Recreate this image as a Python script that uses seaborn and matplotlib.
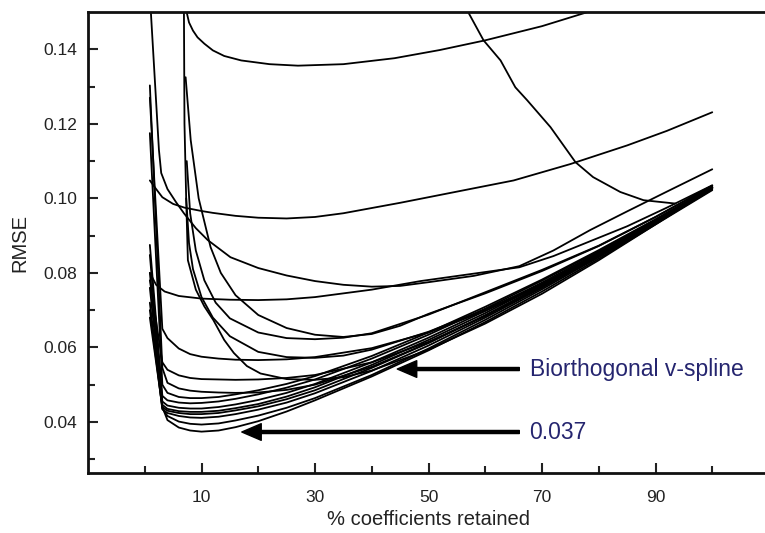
import matplotlib
matplotlib.use("Agg")
import matplotlib.pyplot as plt
import pandas as pd
import seaborn as sns

# ---------------- data ----------------
# common x grid for curves that start at ~1 % and have a sharp knee near 3 %
pct_knee = [0.9, 3.1, 4, 6, 8, 10, 13, 16, 20, 25, 30, 40, 50, 60, 70, 80, 90, 100]

rmse_b1 = [0.0680, 0.0440, 0.0405, 0.0385, 0.0377, 0.0374, 0.0377, 0.0386, 0.0402, 0.0428, 0.0458, 0.0522, 0.0592, 0.0668, 0.0750, 0.0838, 0.0930, 0.1022]
rmse_b2 = [0.0700, 0.0436, 0.0416, 0.0401, 0.0395, 0.0393, 0.0396, 0.0404, 0.0417, 0.0438, 0.0464, 0.0526, 0.0597, 0.0674, 0.0756, 0.0842, 0.0932, 0.1024]
rmse_b3 = [0.0720, 0.0434, 0.0424, 0.0416, 0.0412, 0.0411, 0.0414, 0.0421, 0.0433, 0.0452, 0.0477, 0.0537, 0.0605, 0.0680, 0.0760, 0.0845, 0.0934, 0.1026]
rmse_b4 = [0.0760, 0.0440, 0.0430, 0.0424, 0.0421, 0.0421, 0.0424, 0.0431, 0.0442, 0.0461, 0.0485, 0.0545, 0.0612, 0.0686, 0.0765, 0.0848, 0.0936, 0.1027]
rmse_b5 = [0.0800, 0.0446, 0.0435, 0.0429, 0.0427, 0.0427, 0.0430, 0.0437, 0.0448, 0.0468, 0.0493, 0.0553, 0.0620, 0.0692, 0.0770, 0.0852, 0.0938, 0.1028]
rmse_b6 = [0.0848, 0.0455, 0.0444, 0.0438, 0.0436, 0.0436, 0.0440, 0.0447, 0.0459, 0.0478, 0.0502, 0.0560, 0.0626, 0.0698, 0.0774, 0.0855, 0.0940, 0.1029]
rmse_b7 = [0.0875, 0.0470, 0.0458, 0.0452, 0.0450, 0.0451, 0.0455, 0.0462, 0.0474, 0.0492, 0.0514, 0.0570, 0.0634, 0.0704, 0.0779, 0.0858, 0.0942, 0.1030]
rmse_b8 = [0.1175, 0.0500, 0.0478, 0.0467, 0.0464, 0.0464, 0.0467, 0.0474, 0.0485, 0.0502, 0.0523, 0.0577, 0.0640, 0.0709, 0.0782, 0.0861, 0.0944, 0.1031]
rmse_m1 = [0.1270, 0.0650, 0.0625, 0.0597, 0.0582, 0.0575, 0.0570, 0.0567, 0.0566, 0.0568, 0.0574, 0.0598, 0.0640, 0.0698, 0.0766, 0.0846, 0.0935, 0.1029]
rmse_m2 = [0.1303, 0.0545, 0.0505, 0.0490, 0.0484, 0.0481, 0.0479, 0.0478, 0.0479, 0.0486, 0.0500, 0.0548, 0.0612, 0.0686, 0.0766, 0.0850, 0.0938, 0.1029]
rmse_m3 = [0.0780, 0.0560, 0.0540, 0.0525, 0.0518, 0.0515, 0.0514, 0.0513, 0.0514, 0.0518, 0.0526, 0.0560, 0.0615, 0.0684, 0.0762, 0.0846, 0.0936, 0.1028]

pct_c = [0.9, 2, 3.1, 5, 7, 10, 12, 16, 20, 25, 30, 35, 45, 55, 65, 75, 85, 92, 100]
rmse_c = [0.1048, 0.1025, 0.1003, 0.0985, 0.0975, 0.0966, 0.0961, 0.0953, 0.0948, 0.0946, 0.0950, 0.0960, 0.0988, 0.1018, 0.1048, 0.1092, 0.1142, 0.1181, 0.1231]

pct_d = [1.0, 2.5, 2.9, 4, 5.5, 6.9, 9, 11.1, 15.1, 20, 25, 30, 35, 40, 45, 50, 58, 66, 72, 78.5, 85, 92, 100]
rmse_d = [0.152, 0.113, 0.1068, 0.1025, 0.0990, 0.0960, 0.0920, 0.0888, 0.0842, 0.0813, 0.0793, 0.0778, 0.0768, 0.0763, 0.0765, 0.0775, 0.0792, 0.0818, 0.0860, 0.0915, 0.0965, 0.1018, 0.1078]

pct_k = [0.9, 2, 3.5, 6, 10, 15, 20, 25, 30, 40, 48.6, 58, 66, 72, 78.5, 85, 92, 100]
rmse_k = [0.0800, 0.0768, 0.0750, 0.0738, 0.0731, 0.0728, 0.0727, 0.0729, 0.0735, 0.0755, 0.0778, 0.0798, 0.0815, 0.0845, 0.0885, 0.0925, 0.0975, 0.1035]

pct_e = [6.9, 7.0, 7.3, 7.8, 8.5, 10, 12, 15, 20, 25, 30, 35, 40, 50, 60, 70, 80, 90, 100]
rmse_e = [0.152, 0.120, 0.100, 0.088, 0.0810, 0.0735, 0.0680, 0.0630, 0.0588, 0.0574, 0.0572, 0.0578, 0.0594, 0.0642, 0.0702, 0.0770, 0.0848, 0.0936, 0.1030]

pct_f = [7.2, 8.1, 9.5, 11.6, 13.4, 16, 20, 25, 30, 35, 40, 45, 50, 60, 70, 80, 90, 100]
rmse_f = [0.1325, 0.1156, 0.1000, 0.0869, 0.0800, 0.0740, 0.0687, 0.0652, 0.0634, 0.0628, 0.0636, 0.0658, 0.0690, 0.0745, 0.0805, 0.0872, 0.0950, 0.1034]

pct_f2 = [7.4, 8, 9, 10.5, 12.5, 15, 20, 25, 30, 35, 40, 50, 60, 70, 80, 90, 100]
rmse_f2 = [0.110, 0.0960, 0.0860, 0.0780, 0.0720, 0.0678, 0.0640, 0.0625, 0.0622, 0.0626, 0.0638, 0.0688, 0.0748, 0.0808, 0.0873, 0.0950, 0.1034]

pct_g = [7.3, 7.6, 9, 10.5, 12.1, 14, 15.7, 18, 20.4, 25, 30, 35, 40, 50, 60, 70, 80, 90, 100]
rmse_g = [0.100, 0.0834, 0.0755, 0.0710, 0.0673, 0.0620, 0.0585, 0.0550, 0.0530, 0.0515, 0.0513, 0.0520, 0.0538, 0.0594, 0.0664, 0.0744, 0.0834, 0.0930, 0.1028]

pct_a = [7.3, 7.8, 8.5, 9.3, 10.5, 12, 14, 17, 22, 27, 35, 44, 52, 60, 70, 78.5]
rmse_a = [0.1505, 0.1472, 0.1450, 0.1432, 0.1415, 0.1397, 0.1382, 0.1370, 0.1360, 0.1356, 0.1360, 0.1376, 0.1398, 0.1424, 0.1462, 0.1502]

pct_b = [56.8, 59.7, 62.7, 65.3, 67.4, 71.5, 75.9, 79.0, 83.8, 87.9, 93.5]
rmse_b = [0.1505, 0.1424, 0.1370, 0.1298, 0.1263, 0.1191, 0.1097, 0.1057, 0.1017, 0.0995, 0.0986]

x_major = [10, 30, 50, 70, 90]
x_minor = [0, 20, 40, 60, 80, 100]
y_major = [0.04, 0.06, 0.08, 0.10, 0.12, 0.14]
y_minor = [0.03, 0.05, 0.07, 0.09, 0.11, 0.13]
y_labels = ["0.04", "0.06", "0.08", "0.10", "0.12", "0.14"]

label_spline = "Biorthogonal v-spline"
label_min = "0.037"
arrow_spline = (44.5, 0.0542)
arrow_min = (17.1, 0.0373)

# ---------------- build long table ----------------
curves = {
    "b1": (pct_knee, rmse_b1), "b2": (pct_knee, rmse_b2), "b3": (pct_knee, rmse_b3),
    "b4": (pct_knee, rmse_b4), "b5": (pct_knee, rmse_b5), "b6": (pct_knee, rmse_b6),
    "b7": (pct_knee, rmse_b7), "b8": (pct_knee, rmse_b8), "m1": (pct_knee, rmse_m1),
    "m2": (pct_knee, rmse_m2), "m3": (pct_knee, rmse_m3), "c": (pct_c, rmse_c),
    "d": (pct_d, rmse_d), "k": (pct_k, rmse_k), "e": (pct_e, rmse_e),
    "f": (pct_f, rmse_f), "f2": (pct_f2, rmse_f2), "g": (pct_g, rmse_g),
    "a": (pct_a, rmse_a), "b": (pct_b, rmse_b),
}
rows = []
for name, (xs, ys) in curves.items():
    for xv, yv in zip(xs, ys):
        rows.append((name, xv, yv))
df = pd.DataFrame(rows, columns=["curve", "pct", "rmse"])

# ---------------- plot ----------------
sns.set_theme(style="ticks")
plt.rcParams["font.family"] = ["Liberation Sans", "DejaVu Sans"]

W, H = 765, 533
fig = plt.figure(figsize=(W / 100, H / 100), dpi=100)
ax = fig.add_axes([88 / W, 60 / H, 681 / W, 461 / H])

sns.lineplot(data=df, x="pct", y="rmse", units="curve", estimator=None, sort=False,
             color="black", lw=1.3, ax=ax, legend=False)

ax.set_xlim(-10, 110)
ax.set_ylim(0.0263, 0.15)
ax.set_xticks(x_major)
ax.set_xticks(x_minor, minor=True)
ax.set_yticks(y_major)
ax.set_yticklabels(y_labels)
ax.set_yticks(y_minor, minor=True)
ax.tick_params(which="both", direction="in", width=1.5, colors="#222222", labelsize=12.5)
ax.tick_params(which="major", length=7)
ax.tick_params(which="minor", length=5)
ax.tick_params(axis="y", pad=8)
ax.tick_params(axis="x", pad=12)

for side in ["left", "bottom", "top"]:
    ax.spines[side].set_linewidth(2)
    ax.spines[side].set_color("#111111")
ax.spines["right"].set_visible(False)

ax.set_xlabel("% coefficients retained", fontsize=14.5, color="#222222", labelpad=4)
ax.set_ylabel("RMSE", fontsize=14.5, color="#222222", labelpad=10)

text_color = "#25256f"
arrow_props = dict(width=2.2, headwidth=12, headlength=14, facecolor="black",
                   edgecolor="black", shrink=0)
ax.annotate("", xy=arrow_spline, xytext=(66.0, arrow_spline[1]), arrowprops=arrow_props)
ax.annotate("", xy=arrow_min, xytext=(66.0, arrow_min[1]), arrowprops=arrow_props)
ax.text(67.8, arrow_spline[1], label_spline, fontsize=16.5, color=text_color, va="center", ha="left")
ax.text(67.8, arrow_min[1], label_min, fontsize=16.5, color=text_color, va="center", ha="left")

fig.savefig("out.png", dpi=100)
